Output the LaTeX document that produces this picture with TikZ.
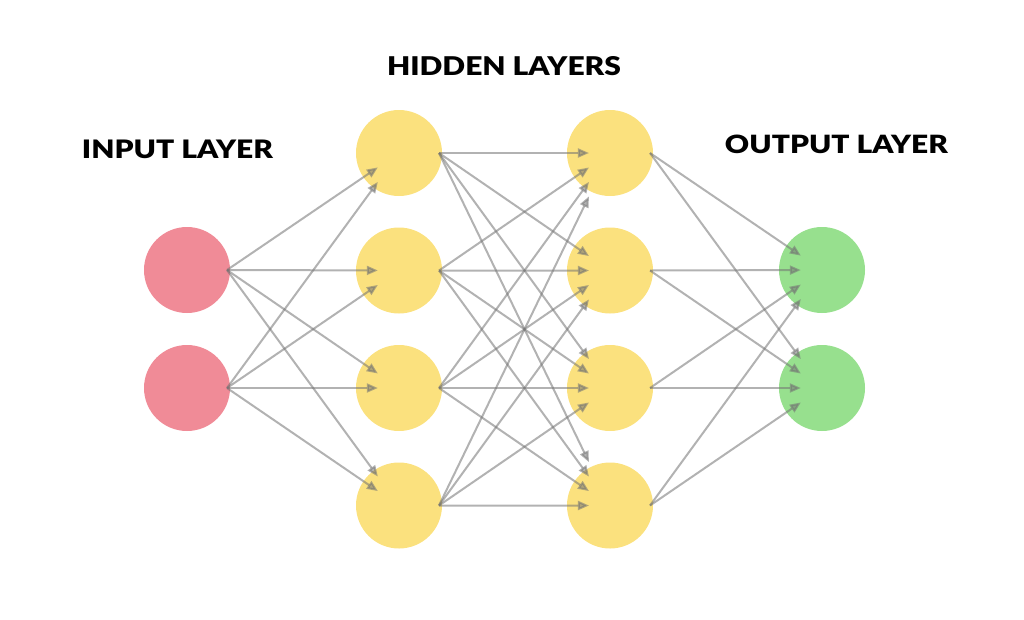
\documentclass[tikz,border=0pt]{standalone}
\usepackage{fontspec}
\newfontfamily\labfont{Lato Black}
\usetikzlibrary{calc,arrows.meta}
\definecolor{inred}{RGB}{240,139,151}
\definecolor{hidyel}{RGB}{251,225,126}
\definecolor{outgrn}{RGB}{151,224,142}
\tikzset{
  neuron/.style={circle,draw=none,minimum size=86pt,inner sep=0pt},
  edge/.style={draw=black!55,opacity=0.55,line width=2pt,-{Triangle[length=11pt,width=9pt]}},
  lab/.style={inner sep=0pt,font=\labfont}
}
\begin{document}
\begin{tikzpicture}[x=1pt,y=-1pt]
\useasboundingbox (0,0) rectangle (1024,619);
% nodes
\foreach \i/\y in {1/270,2/388} \node[neuron,fill=inred] (i\i) at (187,\y) {};
\foreach \i/\y in {1/153,2/270.5,3/388,4/505.5} \node[neuron,fill=hidyel] (a\i) at (399,\y) {};
\foreach \i/\y in {1/153,2/270.5,3/388,4/505.5} \node[neuron,fill=hidyel] (b\i) at (610,\y) {};
\foreach \i/\y in {1/270,2/388} \node[neuron,fill=outgrn] (o\i) at (822,\y) {};
% labels
\node[lab] (tin) at (177.5,149) {\resizebox{191pt}{18.5pt}{INPUT LAYER}};
\node[lab] (thid) at (504,66.5) {\resizebox{234pt}{19pt}{HIDDEN LAYERS}};
\node[lab] (tout) at (836.5,144) {\resizebox{223pt}{18.5pt}{OUTPUT LAYER}};
% edges
\foreach \s in {1,2} \foreach \t in {1,2,3,4}
  \draw[edge] ($(i\s.center)+(40,0)$) -- ($($(i\s.center)+(40,0)$)!0.877!(a\t.center)$);
\foreach \s in {1,2,3,4} \foreach \t in {1,2,3,4}
  \draw[edge] ($(a\s.center)+(40,0)$) -- ($($(a\s.center)+(40,0)$)!0.877!(b\t.center)$);
\foreach \s in {1,2,3,4} \foreach \t in {1,2}
  \draw[edge] ($(b\s.center)+(40,0)$) -- ($($(b\s.center)+(40,0)$)!0.877!(o\t.center)$);
\end{tikzpicture}
\end{document}
